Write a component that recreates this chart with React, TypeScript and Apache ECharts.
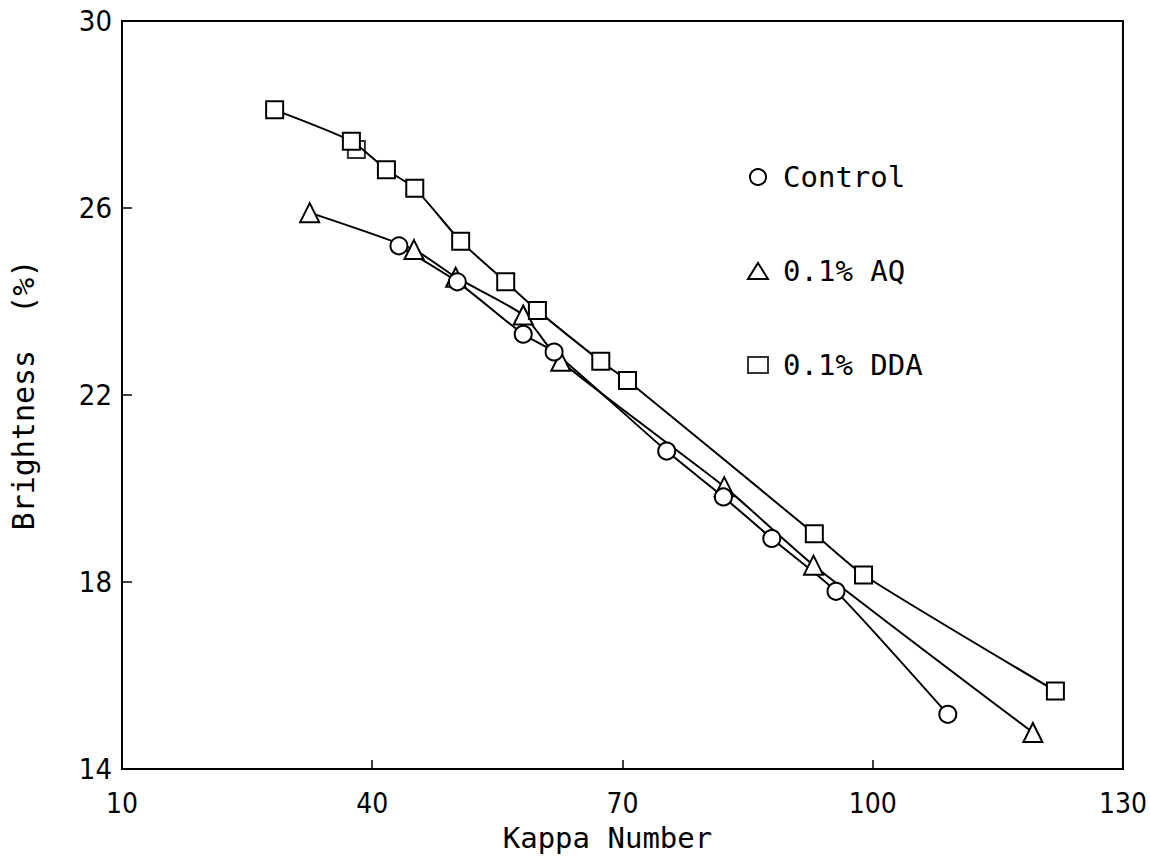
import React, { useEffect, useRef } from "react";
import * as echarts from "echarts";

// Axis ticks
const xTickValues = [10, 40, 70, 100, 130];
const yTickValues = [14, 18, 22, 26, 30];

// Control
const controlKappa = [43.2, 50.2, 58.1, 61.8, 75.3, 82.1, 87.9, 95.6, 109.0];
const controlBright = [25.19, 24.42, 23.3, 22.92, 20.8, 19.82, 18.93, 17.8, 15.17];

// 0.1% AQ
const aqKappa = [32.5, 45.0, 50.0, 58.1, 62.6, 82.2, 92.9, 119.2];
const aqBright = [25.9, 25.11, 24.52, 23.71, 22.72, 20.04, 18.36, 14.78];

// 0.1% DDA
const ddaKappa = [28.3, 37.5, 41.7, 45.1, 50.6, 56.0, 59.8, 67.4, 70.6, 93.0, 98.9, 121.9];
const ddaBright = [28.1, 27.43, 26.82, 26.42, 25.29, 24.42, 23.81, 22.72, 22.31, 19.03, 18.15, 15.67];
// DDA replicate lying partly beneath the 37.5 point
const ddaRepKappa = [38.1];
const ddaRepBright = [27.25];

const zip = (xs: number[], ys: number[]) => xs.map((x, i) => [x, ys[i]]);

const tickFont = "'Liberation Sans Narrow', 'DejaVu Sans Condensed', sans-serif";
const textFont = "'DejaVu Sans Mono', monospace";

export default function App() {
  const ref = useRef<HTMLDivElement>(null);

  useEffect(() => {
    const chart = echarts.init(ref.current!, null, { renderer: "svg" });

    const markStyle = { color: "#000", borderColor: "#000", borderWidth: 2 };

    const lineSeries = (name: string, symbol: string, size: number, data: number[][]) => ({
      name,
      type: "line",
      data,
      smooth: 0.2,
      symbol,
      symbolSize: size,
      showAllSymbol: true,
      z: 3,
      lineStyle: { color: "#000", width: 2 },
      itemStyle: markStyle,
      emphasis: { disabled: true },
    });

    chart.setOption({
      animation: false,
      backgroundColor: "#fff",
      grid: {
        left: 122,
        right: 25,
        top: 21,
        bottom: 86,
        show: true,
        borderColor: "#000",
        borderWidth: 2,
      },
      legend: {
        orient: "vertical",
        left: 742,
        top: 157,
        itemWidth: 20,
        itemHeight: 16,
        itemGap: 64,
        data: [
          { name: "Control", icon: "emptyCircle" },
          { name: "0.1% AQ", icon: "emptyTriangle" },
          { name: "0.1% DDA", icon: "emptyRect" },
        ],
        textStyle: {
          color: "#000",
          fontFamily: textFont,
          fontSize: 29,
          lineHeight: 30,
          padding: [0, 0, 0, 10],
        },
      },
      xAxis: {
        type: "value",
        min: 10,
        max: 130,
        name: "Kappa Number",
        nameLocation: "middle",
        nameGap: 54,
        nameTextStyle: {
          color: "#000",
          fontFamily: textFont,
          fontSize: 29,
          padding: [0, 30, 0, 0],
        },
        axisLine: { lineStyle: { color: "#000", width: 2 } },
        axisTick: {
          inside: true,
          length: 9,
          customValues: [40, 70, 100],
          lineStyle: { color: "#000", width: 1.5 },
        },
        axisLabel: {
          customValues: xTickValues,
          color: "#000",
          fontFamily: tickFont,
          fontSize: 28,
          margin: 20,
        },
        splitLine: { show: false },
      },
      yAxis: {
        type: "value",
        min: 14,
        max: 30,
        name: "Brightness  (%)",
        nameLocation: "middle",
        nameGap: 84,
        nameTextStyle: {
          color: "#000",
          fontFamily: textFont,
          fontSize: 30,
        },
        axisLine: { lineStyle: { color: "#000", width: 2 } },
        axisTick: {
          inside: true,
          length: 10,
          customValues: [18, 22, 26],
          lineStyle: { color: "#000", width: 1.5 },
        },
        axisLabel: {
          customValues: yTickValues,
          color: "#000",
          fontFamily: tickFont,
          fontSize: 29,
          margin: 10,
        },
        splitLine: { show: false },
      },
      series: [
        {
          name: "0.1% DDA",
          type: "scatter",
          z: 2,
          symbol: "emptyRect",
          symbolSize: 17,
          itemStyle: markStyle,
          emphasis: { disabled: true },
          data: zip(ddaRepKappa, ddaRepBright),
        },
        lineSeries("0.1% AQ", "emptyTriangle", 19, zip(aqKappa, aqBright)),
        lineSeries("Control", "emptyCircle", 17, zip(controlKappa, controlBright)),
        lineSeries("0.1% DDA", "emptyRect", 17, zip(ddaKappa, ddaBright)),
      ],
    });

    return () => chart.dispose();
  }, []);

  return (
    <div
      ref={ref}
      style={{ position: "fixed", left: 0, top: 0, width: 1150, height: 857, background: "#fff" }}
    />
  );
}
